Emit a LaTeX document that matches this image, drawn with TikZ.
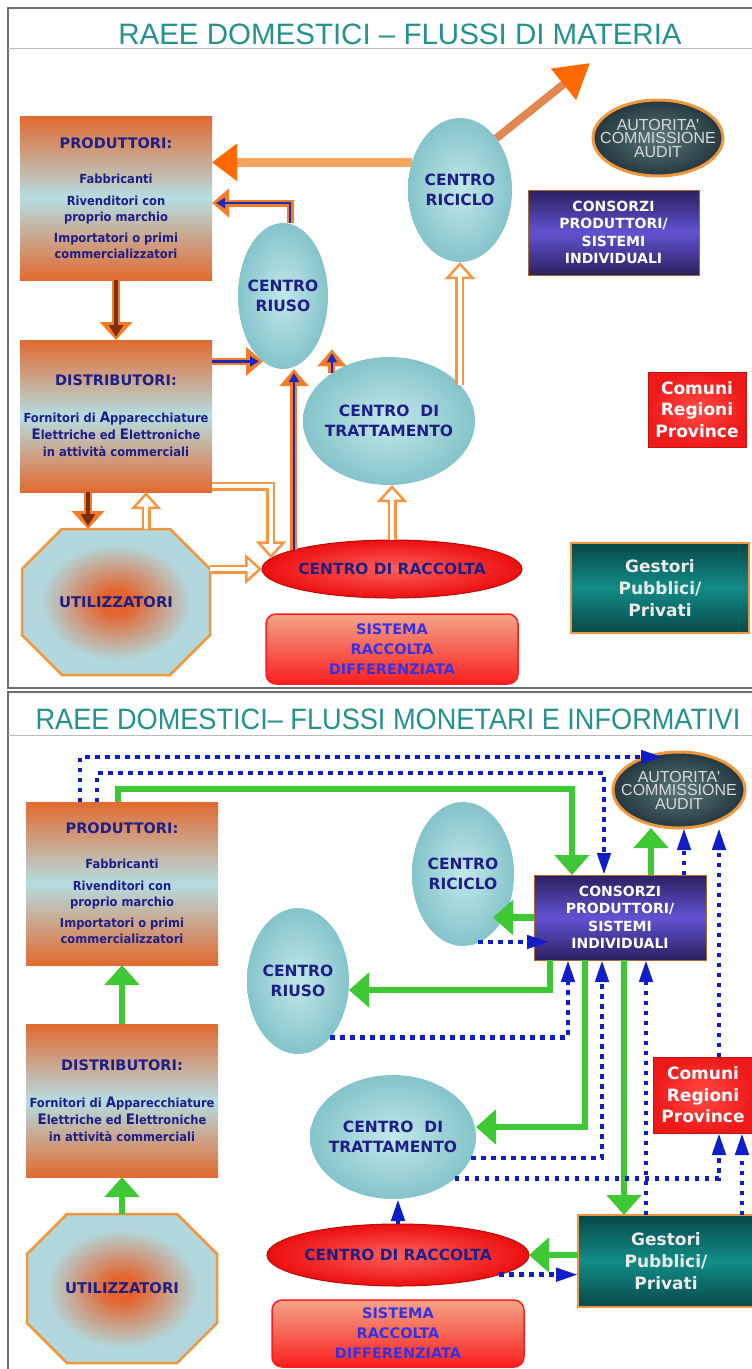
\documentclass[tikz,border=0pt]{standalone}
\usepackage{graphicx}
\usepackage{fontspec}
\setmainfont{DejaVu Sans}
\newfontfamily\titlefont{Liberation Sans}
\newfontfamily\smallfont[FakeStretch=0.92]{DejaVu Sans}
\usetikzlibrary{shapes.geometric,arrows.meta}

\definecolor{titleteal}{RGB}{35,145,140}
\definecolor{navytext}{RGB}{30,30,135}
\definecolor{boxorange}{RGB}{226,106,48}
\definecolor{boxblue}{RGB}{182,221,226}
\definecolor{ellinner}{RGB}{195,232,234}
\definecolor{ellouter}{RGB}{132,196,202}
\definecolor{raccred}{RGB}{235,15,15}
\definecolor{racclight}{RGB}{255,95,90}
\definecolor{sistsalmon}{RGB}{244,165,135}
\definecolor{sistred}{RGB}{250,30,30}
\definecolor{sistblue}{RGB}{55,50,225}
\definecolor{autdark}{RGB}{35,55,62}
\definecolor{autlight}{RGB}{90,120,125}
\definecolor{rimorange}{RGB}{240,150,60}
\definecolor{consdark}{RGB}{42,32,95}
\definecolor{consviolet}{RGB}{98,82,210}
\definecolor{comred}{RGB}{238,25,25}
\definecolor{comlight}{RGB}{255,75,70}
\definecolor{gestdark}{RGB}{8,72,72}
\definecolor{gestteal}{RGB}{18,140,135}
\definecolor{utilblue}{RGB}{178,216,221}
\definecolor{utilorange}{RGB}{228,100,45}
\definecolor{matorange}{RGB}{246,125,40}
\definecolor{holloworange}{RGB}{246,150,65}
\definecolor{flowblue}{RGB}{30,40,185}
\definecolor{flowbrown}{RGB}{125,45,10}
\definecolor{lightorange}{RGB}{246,165,95}
\definecolor{headorange}{RGB}{255,105,0}
\definecolor{diagorange}{RGB}{226,135,80}
\definecolor{moneygreen}{RGB}{62,200,52}
\definecolor{infoblue}{RGB}{15,30,200}
\definecolor{framegray}{RGB}{110,110,110}

\pgfdeclareradialshading{utilblob}{\pgfpoint{0bp}{0bp}}{color(0bp)=(utilorange); color(4bp)=(utilorange); color(20bp)=(utilblue); color(50bp)=(utilblue)}

\newcommand\headfont{\normalfont\bfseries\fontsize{14.5}{16}\selectfont}
\newcommand\initcap[1]{{\fontsize{14.5}{16}\selectfont #1}}
\newcommand\coreflow[3]{\draw[#1] #3; \draw[#2] #3;}

\tikzset{
  paneltitle/.style={text=titleteal, inner sep=0pt, font=\titlefont\fontsize{29.5}{30}\selectfont},
  firmbox/.style={rectangle, top color=boxorange, bottom color=boxorange, middle color=boxblue, text=navytext, align=center, inner sep=0pt, outer sep=0pt, font=\smallfont\bfseries\fontsize{12.5}{16}\selectfont},
  octlabel/.style={rectangle, inner sep=0pt, outer sep=0pt, text=navytext, font=\bfseries\fontsize{14.8}{17}\selectfont},
  centre/.style={ellipse, inner color=ellinner, outer color=ellouter, text=navytext, align=center, inner xsep=-20pt, inner ysep=0pt, outer sep=0pt, font=\bfseries\fontsize{15.5}{20}\selectfont},
  raccolta/.style={ellipse, inner color=racclight, outer color=raccred, draw=raccred!80!black, line width=1pt, text=navytext, inner xsep=-20pt, inner ysep=0pt, outer sep=0pt, font=\bfseries\fontsize{15.4}{18}\selectfont},
  sistema/.style={rectangle, rounded corners=10pt, top color=sistsalmon, bottom color=sistred, draw=sistred, line width=1.5pt, text=sistblue, align=center, inner sep=0pt, outer sep=0pt, font=\bfseries\fontsize{14.5}{20}\selectfont},
  autorita/.style={ellipse, inner color=autlight, outer color=autdark, draw=rimorange, line width=3pt, text=white!85!black, align=center, inner xsep=-20pt, inner ysep=0pt, outer sep=0pt, font=\titlefont\fontsize{16}{13.5}\selectfont},
  consorzi/.style={rectangle, top color=consdark, bottom color=consdark, middle color=consviolet, draw=rimorange!70!black, line width=1pt, text=white, align=center, inner sep=0pt, outer sep=0pt, font=\bfseries\fontsize{14}{17.5}\selectfont},
  comuni/.style={rectangle, inner color=comlight, outer color=comred, draw=comred!80!black, line width=1pt, text=white, align=center, inner sep=0pt, outer sep=0pt, font=\bfseries\fontsize{17}{21.5}\selectfont},
  gestori/.style={rectangle, top color=gestdark, bottom color=gestdark, middle color=gestteal, draw=rimorange, line width=2.5pt, text=white!92!black, align=center, inner sep=0pt, outer sep=0pt, font=\bfseries\fontsize{17}{22}\selectfont},
  bigflow/.style={draw=lightorange, line width=9pt, -{Triangle[length=25pt,width=36pt,color=headorange]}},
  outflow/.style={draw=diagorange, line width=8pt, -{Triangle[length=34pt,width=38pt,color=headorange]}},
  reuseouter/.style={draw=matorange, line width=7pt, -{Triangle[length=17pt,width=28pt]}},
  reusecore/.style={draw=flowblue, line width=2.5pt, shorten >=4pt, -{Triangle[length=9pt,width=10pt]}},
  goodsouter/.style={draw=matorange, line width=8pt, -{Triangle[length=18pt,width=32pt]}},
  goodscore/.style={draw=flowbrown, line width=3.5pt, shorten >=3pt, -{Triangle[length=12pt,width=14pt]}},
  wasteouter/.style={draw=holloworange, line width=9pt, -{Triangle[length=17pt,width=30pt,fill=white,line width=2.5pt]}},
  wastecore/.style={draw=white, line width=4pt, shorten >=14pt},
  moneyflow/.style={draw=moneygreen, line width=6.5pt, -{Triangle[length=20pt,width=34pt]}},
  infoflow/.style={draw=infoblue, line width=4.5pt, dash pattern=on 4.5pt off 5.5pt, -{Triangle[length=22pt,width=13pt]}}
}

\begin{document}
\begin{tikzpicture}[x=1pt,y=-1pt]
  \useasboundingbox (0,0) rectangle (752,1369);

  % Frames
  \draw[framegray, line width=1.6pt] (752,8) -- (8,8) -- (8,688) -- (752,688);
  \draw[framegray, line width=1.6pt] (752,692) -- (8,692) -- (8,1369);
  \draw[gray!55, line width=0.8pt] (8,48) -- (752,48);
  \draw[gray!55, line width=0.8pt] (8,735) -- (752,735);

  % Flussi di materia
  \node[paneltitle] (titleA) at (400,34) {RAEE DOMESTICI – FLUSSI DI MATERIA};

  \node[firmbox, minimum width=192pt, minimum height=164pt] (prodA) at (116,198)
    {{\headfont PRODUTTORI:}\\[19pt]Fabbricanti\\[6pt]Rivenditori con\\proprio marchio\\[5pt]Importatori o primi\\commercializzatori};
  \node[firmbox, minimum width=192pt, minimum height=152pt] (distA) at (116,416)
    {{\headfont DISTRIBUTORI:}\\[21pt]Fornitori di \initcap{A}pparecchiature\\[1pt]\initcap{E}lettriche ed \initcap{E}lettroniche\\[1pt]in attività commerciali};
  \shadedraw[shading=utilblob, draw=rimorange, line width=2.5pt] (62,529) -- (170,529) -- (210,569) -- (210,635) -- (170,675) -- (62,675) -- (22,635) -- (22,569) -- cycle;
  \node[octlabel, minimum width=188pt, minimum height=146pt] (utilA) at (116,602) {UTILIZZATORI};

  \node[centre, minimum width=90pt, minimum height=146pt] (riusoA) at (283,296) {CENTRO\\RIUSO};
  \node[centre, minimum width=104pt, minimum height=144pt] (ricicloA) at (460,190) {CENTRO\\RICICLO};
  \node[centre, minimum width=172pt, minimum height=128pt] (trattA) at (389,421) {CENTRO\ \ DI\\TRATTAMENTO};
  \node[raccolta, minimum width=260pt, minimum height=58pt] (raccA) at (392,569) {CENTRO DI RACCOLTA};
  \node[sistema, minimum width=252pt, minimum height=70pt] (sistA) at (392,649) {SISTEMA\\RACCOLTA\\DIFFERENZIATA};

  \node[autorita, minimum width=130pt, minimum height=76pt] (autA) at (658,138) {AUTORITA\textquotesingle\\COMMISSIONE\\AUDIT};
  \node[consorzi, minimum width=171pt, minimum height=85pt] (consA) at (613.5,232.5) {CONSORZI\\PRODUTTORI/\\SISTEMI\\INDIVIDUALI};
  \node[comuni, minimum width=98pt, minimum height=75pt] (comA) at (697,409.5) {Comuni\\Regioni\\Province};
  \node[gestori, minimum width=178pt, minimum height=90pt] (gestA) at (660,588) {Gestori\\Pubblici/\\Privati};

  \draw[bigflow] (ricicloA.150) -- (prodA.east |- ricicloA.150);
  \coordinate (exportA) at (590,63);
  \draw[outflow] (ricicloA.55) -- (exportA);
  \coreflow{reuseouter}{reusecore}{([xshift=7pt]riusoA.north) |- ([yshift=-5pt]prodA.east)}
  \coreflow{goodsouter}{goodscore}{(prodA.south) -- (distA.north)}
  \coreflow{reuseouter}{reusecore}{(distA.east |- riusoA.253) -- (riusoA.253)}
  \coreflow{goodsouter}{goodscore}{([xshift=-28pt]distA.south) -- ([xshift=-28pt]utilA.north)}
  \coreflow{wasteouter}{wastecore}{([xshift=30pt]utilA.north) -- ([xshift=30pt]distA.south)}
  \coreflow{wasteouter}{wastecore}{([yshift=-70pt]distA.east) -| (raccA.175)}
  \coreflow{wasteouter}{wastecore}{(utilA.east |- raccA.west) -- (raccA.west)}
  \coreflow{reuseouter}{reusecore}{(raccA.169) -- (raccA.169 |- riusoA.south)}
  \coreflow{reuseouter}{reusecore}{(trattA.140) -- (trattA.140 |- riusoA.300)}
  \coreflow{wasteouter}{wastecore}{(raccA.north) -- (raccA.north |- trattA.south)}
  \coreflow{wasteouter}{wastecore}{(trattA.27) -- (trattA.27 |- ricicloA.south)}

  % Flussi monetari e informativi
  \node[paneltitle] (titleB) at (388,719) {\scalebox{0.92}[1]{RAEE DOMESTICI– FLUSSI MONETARI E INFORMATIVI}};

  \node[firmbox, minimum width=192pt, minimum height=163pt] (prodB) at (122,883.5)
    {{\headfont PRODUTTORI:}\\[19pt]Fabbricanti\\[6pt]Rivenditori con\\proprio marchio\\[5pt]Importatori o primi\\commercializzatori};
  \node[firmbox, minimum width=192pt, minimum height=153pt] (distB) at (122,1100.5)
    {{\headfont DISTRIBUTORI:}\\[21pt]Fornitori di \initcap{A}pparecchiature\\[1pt]\initcap{E}lettriche ed \initcap{E}lettroniche\\[1pt]in attività commerciali};
  \shadedraw[shading=utilblob, draw=rimorange, line width=2.5pt] (67,1214) -- (177,1214) -- (217,1254) -- (217,1323) -- (177,1363) -- (67,1363) -- (27,1323) -- (27,1254) -- cycle;
  \node[octlabel, minimum width=190pt, minimum height=149pt] (utilB) at (122,1288.5) {UTILIZZATORI};

  \node[centre, minimum width=102pt, minimum height=146pt] (riusoB) at (298,981) {CENTRO\\RIUSO};
  \node[centre, minimum width=102pt, minimum height=144pt] (ricicloB) at (463,874) {CENTRO\\RICICLO};
  \node[centre, minimum width=166pt, minimum height=124pt] (trattB) at (393,1137) {CENTRO\ \ DI\\TRATTAMENTO};
  \node[raccolta, minimum width=262pt, minimum height=62pt] (raccB) at (398,1255) {CENTRO DI RACCOLTA};
  \node[sistema, minimum width=252pt, minimum height=67pt] (sistB) at (398,1333.5) {SISTEMA\\RACCOLTA\\DIFFERENZIATA};

  \node[autorita, minimum width=132pt, minimum height=76pt] (autB) at (679,790) {AUTORITA\textquotesingle\\COMMISSIONE\\AUDIT};
  \node[consorzi, minimum width=172pt, minimum height=85pt] (consB) at (620,917.5) {CONSORZI\\PRODUTTORI/\\SISTEMI\\INDIVIDUALI};
  \node[comuni, minimum width=100pt, minimum height=76pt] (comB) at (703,1095) {Comuni\\Regioni\\Province};
  \node[gestori, minimum width=176pt, minimum height=92pt] (gestB) at (666,1261) {Gestori\\Pubblici/\\Privati};

  \draw[moneyflow] ([xshift=-4pt]prodB.north) -- ++(0,-13) -| ([xshift=-48pt]consB.north);
  \draw[moneyflow] ([xshift=31pt]consB.north) -- ([xshift=31pt]consB.north |- autB.south);
  \draw[moneyflow, shorten >=30pt] (consB.west) -- (consB.west -| ricicloB.center);
  \draw[moneyflow] ([xshift=-70pt]consB.south) |- ([yshift=-9pt]riusoB.east);
  \draw[moneyflow] ([xshift=-35pt]consB.south) |- ([yshift=10pt]trattB.east);
  \draw[moneyflow] ([xshift=4pt]consB.south) -- ([xshift=4pt]consB.south |- gestB.north);
  \draw[moneyflow] ([yshift=6pt]gestB.west) -- ([yshift=6pt]gestB.west -| raccB.east);
  \draw[moneyflow] (utilB.north) -- (distB.south);
  \draw[moneyflow] (distB.north) -- (prodB.south);

  \draw[infoflow] ([xshift=-42pt]prodB.north) |- ([xshift=-16pt,yshift=-5pt]autB.north);
  \draw[infoflow] ([xshift=-25pt]prodB.north) -- ++(0,-29) -| ([xshift=-16pt]consB.north);
  \draw[infoflow] ([xshift=64pt]consB.north) -- ([xshift=64pt]consB.north |- autB.south);
  \draw[infoflow] ([xshift=16pt]comB.north) -- ([xshift=16pt]comB.north |- autB.south);
  \draw[infoflow] ([xshift=15pt,yshift=4pt]ricicloB.south) -- ([xshift=15pt,yshift=4pt]ricicloB.south -| consB.west);
  \draw[infoflow] (riusoB.300) -| ([xshift=-52pt]consB.south);
  \draw[infoflow] (trattB.345) -| ([xshift=-18pt]consB.south);
  \draw[infoflow] (trattB.326) -| ([xshift=16pt]comB.south);
  \draw[infoflow] ([xshift=-20pt]gestB.north) -- ([xshift=-20pt]gestB.north |- consB.south);
  \draw[infoflow] ([xshift=76pt]gestB.north) -- ([xshift=76pt]gestB.north |- comB.south);
  \draw[infoflow] (raccB.north) -- (raccB.north |- trattB.south);
  \draw[infoflow] (raccB.349) -- (raccB.349 -| gestB.west);
\end{tikzpicture}
\end{document}
